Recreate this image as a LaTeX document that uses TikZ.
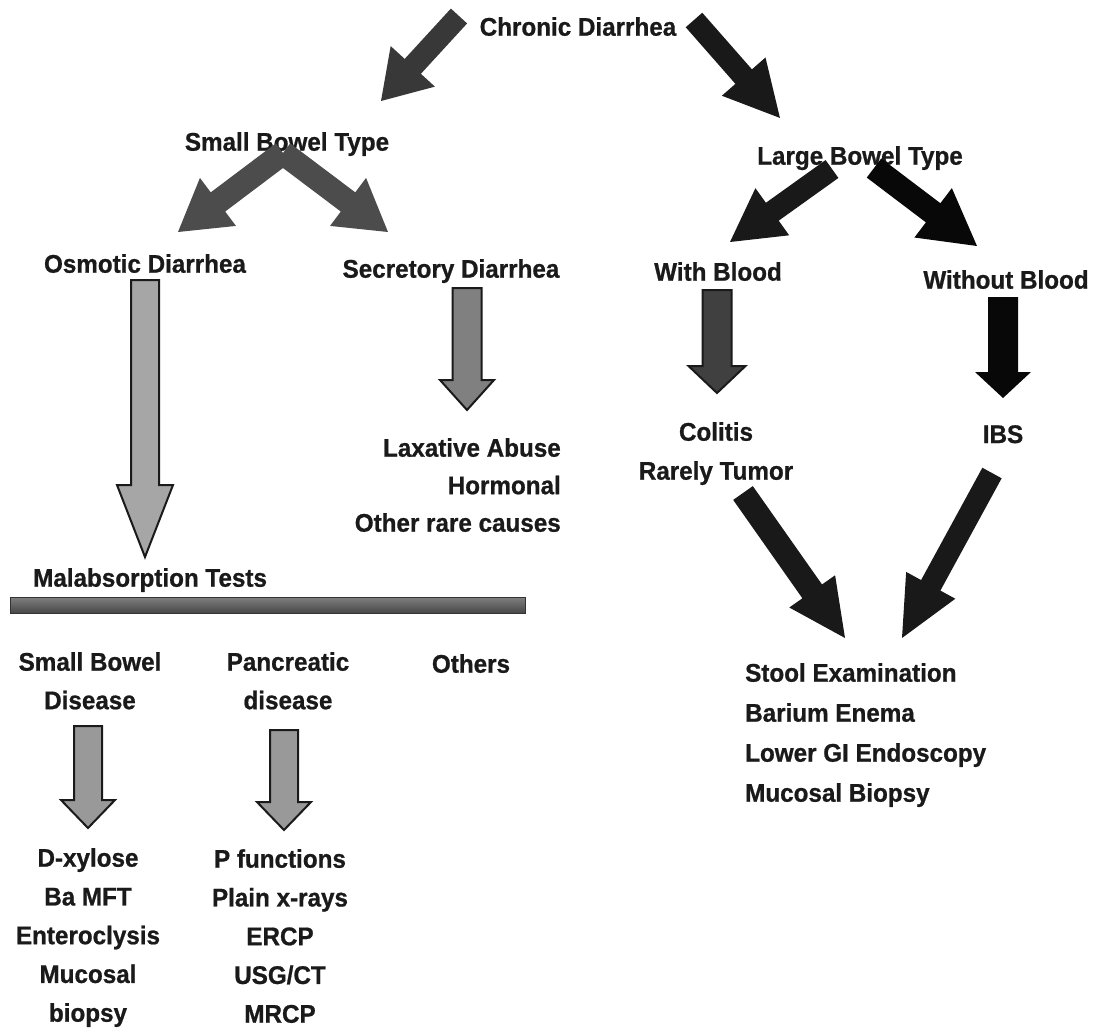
\documentclass[tikz,border=0pt]{standalone}
\usepackage{fontspec}
\setmainfont[FakeStretch=0.95, BoldFeatures={FakeBold=0.8}]{Liberation Sans}
\makeatletter
\newcommand\blockarrow[6][]{%
  \pgfpointdiff{\pgfpointanchor{#2}{center}}{\pgfpointanchor{#3}{center}}%
  \edef\ba@dx{\the\pgf@x}\edef\ba@dy{\the\pgf@y}%
  \pgfmathsetmacro\ba@ang{atan2(\ba@dy,\ba@dx)}%
  \pgfmathsetmacro\ba@len{veclen(\ba@dx,\ba@dy)}%
  \pgfmathsetmacro\ba@base{\ba@len-#6}%
  \path[barrow,#1,shift={(#2)},rotate=\ba@ang]
    (0,-#4) -- (\ba@base,-#4) -- (\ba@base,-#5) -- (\ba@len,0)
    -- (\ba@base,#5) -- (\ba@base,#4) -- (0,#4) -- cycle;
}
\makeatother
\definecolor{ink}{HTML}{1A1A1A}
\tikzset{
  lbl/.style={font=\fontsize{25.5}{38.5}\selectfont\bfseries, inner sep=0pt, align=center, anchor=north, text=ink},
  barrow/.style={line join=miter},
  darkarrow/.style={fill=#1},
  greyarrow/.style={fill=#1, draw=ink, line width=2pt},
}
\begin{document}
\begin{tikzpicture}[x=1pt,y=-1pt]
\useasboundingbox[fill=white] (0,0) rectangle (1101,1034);

% ---- text nodes
\node[lbl] (cd)  at (578,17)  {Chronic Diarrhea};
\node[lbl] (sbt) at (287,132) {Small Bowel Type};
\node[lbl] (lbt) at (860,146) {Large Bowel Type};
\node[lbl] (osm) at (145,254) {Osmotic Diarrhea};
\node[lbl] (sec) at (451,259) {Secretory Diarrhea};
\node[lbl] (wb)  at (718,262) {With Blood};
\node[lbl] (wob) at (1006,270) {Without Blood};
\node[lbl, font=\fontsize{25.5}{39}\selectfont\bfseries] (col) at (716,422) {Colitis\\Rarely Tumor};
\node[lbl] (ibs) at (1003,425) {IBS};
\node[lbl, align=right, anchor=north east, font=\fontsize{25.5}{37.5}\selectfont\bfseries] (lax) at (561,438) {Laxative Abuse\\Hormonal\\Other rare causes};
\node[lbl, anchor=north west] (mal) at (33,568) {Malabsorption Tests};
\node[lbl] (sbd) at (90,652)  {Small Bowel\\Disease};
\node[lbl] (pd)  at (288,652) {Pancreatic\\disease};
\node[lbl] (oth) at (471,654) {Others};
\node[lbl, font=\fontsize{25.5}{38.75}\selectfont\bfseries] (dx) at (88,848)  {D-xylose\\Ba MFT\\Enteroclysis\\Mucosal\\biopsy};
\node[lbl, font=\fontsize{25.5}{38.75}\selectfont\bfseries] (pf) at (280,849) {P functions\\Plain x-rays\\ERCP\\USG/CT\\MRCP};
\node[lbl, align=left, anchor=north west, font=\fontsize{25.5}{40}\selectfont\bfseries] (stool) at (745,663) {Stool Examination\\Barium Enema\\Lower GI Endoscopy\\Mucosal Biopsy};

% ---- separator bar under Malabsorption Tests
\node[draw=black!80, line width=1pt, top color=black!50, bottom color=black!72, minimum width=515pt, minimum height=16pt, inner sep=0pt] (bar) at (267.5,605) {};

% ---- arrow end points
\coordinate (cdL) at (459,16);   \coordinate (sbtT) at (381,101);
\coordinate (cdR) at (694,20);   \coordinate (lbtT) at (780,118);
\coordinate (sbtA) at (283,153); \coordinate (osmT) at (178,232); \coordinate (secT) at (388,232);
\coordinate (lbtL) at (832,169); \coordinate (wbT) at (730,242);
\coordinate (lbtR) at (874,168); \coordinate (wobT) at (977,246);
\coordinate (osmS) at (145,280); \coordinate (malT) at (145,557);
\coordinate (secS) at (467,288); \coordinate (laxT) at (467,410);
\coordinate (wbS) at (717,290);  \coordinate (colT) at (717,393);
\coordinate (wobS) at (1003,297); \coordinate (ibsT) at (1003,398);
\coordinate (colS) at (743,493); \coordinate (stL) at (845,638);
\coordinate (ibsS) at (992,473); \coordinate (stR) at (902,638);
\coordinate (sbdS) at (88,726);  \coordinate (dxT) at (88,828);
\coordinate (pdS) at (284,730);  \coordinate (pfT) at (284,830);

% ---- block arrows
\blockarrow[darkarrow=black!78]{cdL}{sbtT}{11}{30}{47}
\blockarrow[darkarrow=black!90]{cdR}{lbtT}{11}{29}{55}
\blockarrow[darkarrow=black!70]{sbtA}{osmT}{12}{30}{50}
\blockarrow[darkarrow=black!70]{sbtA}{secT}{12}{30}{50}
\blockarrow[darkarrow=black!90]{lbtL}{wbT}{11}{29}{52}
\blockarrow[darkarrow=black!97]{lbtR}{wobT}{12}{31}{55}
\blockarrow[greyarrow=black!35]{osmS}{malT}{14}{28}{72}
\blockarrow[greyarrow=black!50]{secS}{laxT}{14.5}{27}{30}
\blockarrow[greyarrow=black!75]{wbS}{colT}{14.5}{28.5}{27}
\blockarrow[darkarrow=black!97]{wobS}{ibsT}{15}{28}{26}
\blockarrow[darkarrow=black!90]{colS}{stL}{12}{28}{57}
\blockarrow[darkarrow=black!90]{ibsS}{stR}{11}{28}{60}
\blockarrow[greyarrow=black!40]{sbdS}{dxT}{14}{27}{28}
\blockarrow[greyarrow=black!40]{pdS}{pfT}{14}{27}{28}
\end{tikzpicture}
\end{document}
